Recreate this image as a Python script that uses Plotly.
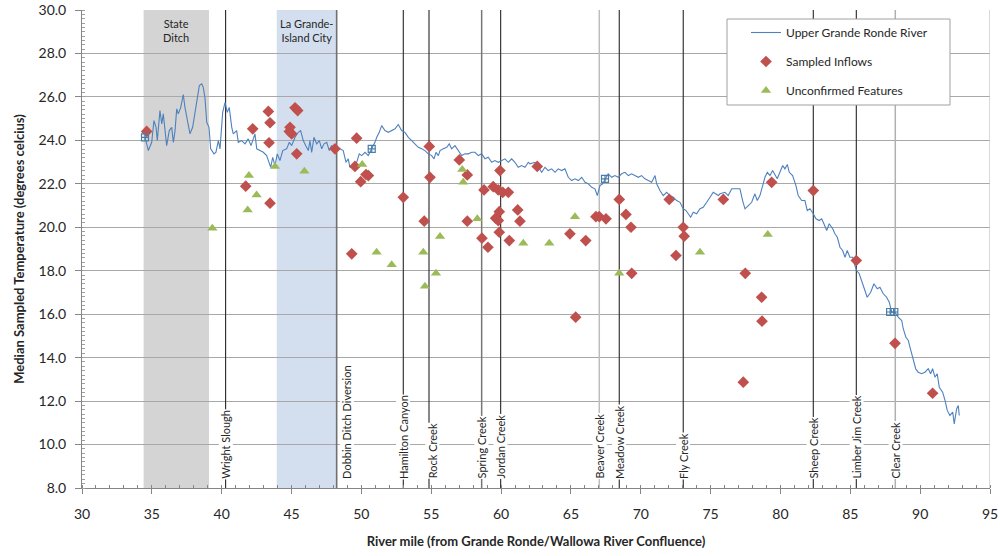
import plotly.graph_objects as go

# ---- Upper Grande Ronde River median temperature profile ----
river_mile = [
    34.51, 34.75, 34.99, 35.15, 35.30, 35.39, 35.58, 35.71, 35.82, 36.06,
    36.25, 36.42, 36.54, 36.66, 36.78, 36.89, 37.07, 37.25, 37.37, 37.61,
    37.73, 37.92, 38.09, 38.21, 38.40, 38.57, 38.68, 38.80, 38.93, 39.09,
    39.21, 39.45, 39.59, 39.76, 39.88, 40.07, 40.24, 40.40, 40.54, 40.72,
    40.83, 41.07, 41.19, 41.43, 41.67, 41.90, 42.10, 42.38, 42.51, 42.74,
    42.98, 43.22, 43.34, 43.51, 43.65, 43.82, 43.98, 44.17, 44.37, 44.65,
    44.84, 45.01, 45.25, 45.48, 45.65, 45.84, 46.01, 46.20, 46.32, 46.44,
    46.61, 46.80, 46.99, 47.16, 47.32, 47.52, 47.70, 47.87, 48.11, 48.35,
    48.47, 48.70, 48.90, 49.06, 49.18, 49.42, 49.66, 49.85, 50.02, 50.26,
    50.49, 50.74, 50.97, 51.10, 51.28, 51.45, 51.69, 51.93, 52.17, 52.41,
    52.64, 52.88, 53.12, 53.36, 53.60, 53.84, 54.07, 54.32, 54.55, 54.79,
    55.03, 55.20, 55.34, 55.51, 55.63, 55.86, 56.11, 56.29, 56.46, 56.70,
    56.94, 57.18, 57.42, 57.65, 57.90, 58.13, 58.37, 58.61, 58.85, 59.08,
    59.33, 59.56, 59.80, 60.04, 60.28, 60.52, 60.76, 60.99, 61.23, 61.47,
    61.71, 61.95, 62.07, 62.43, 62.66, 62.91, 63.14, 63.38, 63.62, 63.86,
    64.09, 64.34, 64.57, 64.81, 65.05, 65.29, 65.53, 65.77, 66.01, 66.24,
    66.49, 66.72, 66.89, 67.08, 67.27, 67.44, 67.67, 67.92, 68.15, 68.39,
    68.63, 68.87, 69.11, 69.35, 69.58, 69.82, 70.06, 70.30, 70.54, 70.78,
    71.02, 71.14, 71.37, 71.61, 71.85, 72.09, 72.33, 72.57, 72.81, 73.04,
    73.24, 73.40, 73.57, 73.76, 74.00, 74.24, 74.47, 74.72, 74.95, 75.19,
    75.55, 75.67, 76.03, 76.26, 76.51, 76.86, 77.10, 77.29, 77.46, 77.70,
    77.94, 78.17, 78.34, 78.53, 78.73, 78.89, 79.06, 79.25, 79.44, 79.61,
    79.77, 79.96, 80.16, 80.32, 80.49, 80.63, 80.87, 81.11, 81.27, 81.52,
    81.75, 81.92, 82.11, 82.35, 82.54, 82.78, 82.95, 83.11, 83.31, 83.49,
    83.74, 83.90, 84.07, 84.26, 84.45, 84.62, 84.78, 84.97, 85.17, 85.33,
    85.45, 85.64, 85.88, 86.05, 86.21, 86.46, 86.69, 86.93, 87.12, 87.36,
    87.60, 87.79, 87.96, 88.20, 88.43, 88.68, 88.79, 88.98, 89.15, 89.27,
    89.39, 89.51, 89.68, 89.86, 90.11, 90.34, 90.58, 90.75, 90.89, 91.06,
    91.22, 91.37, 91.61, 91.78, 91.94, 92.13, 92.33, 92.44, 92.61, 92.73,
    92.80,
]
river_temp = [
    24.14, 23.53, 23.91, 24.91, 24.60, 23.99, 25.37, 24.76, 25.22, 23.76,
    24.45, 24.60, 23.91, 24.45, 25.45, 25.22, 25.52, 26.11, 25.52, 24.60,
    24.30, 24.60, 25.22, 25.68, 26.52, 26.60, 26.44, 25.98, 24.83, 24.60,
    23.61, 23.38, 23.46, 23.99, 23.61, 25.29, 25.75, 25.29, 25.52, 24.60,
    24.30, 24.45, 23.91, 23.99, 23.84, 24.07, 23.76, 24.30, 23.61, 23.53,
    23.45, 23.30, 23.07, 22.76, 23.22, 22.84, 23.38, 23.07, 23.53, 23.61,
    23.91, 23.76, 24.14, 24.37, 24.45, 23.99, 23.76, 23.53, 23.99, 23.45,
    24.14, 23.84, 23.99, 23.61, 23.84, 23.91, 23.53, 23.76, 23.45, 23.61,
    23.61, 23.53, 22.99, 23.15, 22.76, 22.92, 22.99, 23.38, 23.30, 23.45,
    23.30, 23.61, 23.91, 24.14, 24.37, 24.68, 24.45, 24.37, 24.45, 24.53,
    24.73, 24.45, 24.37, 24.14, 23.99, 23.84, 23.68, 23.61, 23.53, 23.38,
    23.30, 23.15, 23.45, 23.30, 23.53, 23.61, 23.68, 23.84, 23.61, 23.76,
    23.53, 23.30, 23.38, 23.38, 23.45, 23.45, 23.30, 23.38, 23.15, 23.22,
    22.99, 23.07, 22.99, 23.07, 23.15, 22.99, 23.15, 22.99, 22.76, 22.84,
    22.76, 22.99, 22.92, 22.99, 22.76, 22.53, 22.76, 22.61, 22.69, 22.53,
    22.69, 22.61, 22.69, 22.30, 22.15, 22.23, 22.15, 22.30, 22.07, 22.00,
    21.84, 21.77, 21.46, 21.92, 22.00, 22.23, 22.46, 22.30, 22.38, 22.30,
    22.46, 22.53, 22.38, 22.46, 22.38, 22.30, 22.38, 22.23, 22.15, 22.07,
    22.38, 22.00, 21.69, 21.46, 21.61, 21.46, 21.38, 21.23, 21.15, 20.85,
    20.77, 20.62, 20.46, 20.69, 20.62, 20.85, 20.92, 21.15, 21.38, 21.61,
    21.46, 21.54, 21.61, 21.46, 21.77, 21.77, 21.77, 21.23, 20.85, 21.00,
    21.15, 21.54, 21.23, 21.46, 22.00, 22.30, 22.53, 22.38, 22.61, 22.38,
    22.23, 22.53, 22.84, 22.69, 22.89, 22.53, 22.38, 21.92, 21.46, 21.23,
    21.23, 20.77, 20.85, 20.62, 20.39, 20.31, 20.39, 20.16, 19.85, 20.16,
    19.93, 19.70, 19.54, 19.08, 18.93, 18.62, 18.93, 18.62, 18.62, 18.24,
    18.01, 17.86, 17.40, 17.01, 16.78, 17.01, 17.40, 17.17, 17.24, 16.94,
    16.78, 16.55, 16.09, 16.09, 15.86, 15.71, 15.33, 14.94, 14.79, 14.48,
    14.18, 13.79, 13.49, 13.33, 13.26, 13.33, 13.49, 13.26, 13.49, 13.10,
    13.26, 12.64, 12.41, 12.03, 11.57, 11.34, 11.49, 10.95, 11.64, 11.80,
    11.34,
]
assert len(river_mile) == len(river_temp)

# Survey reference points on the river profile
survey_mile = [34.51, 50.74, 67.44, 87.85, 88.15]
survey_temp = [24.14, 23.61, 22.23, 16.10, 16.10]

# ---- Sampled inflows ----
inflow_mile = [
    34.63, 41.72, 42.22, 43.34, 43.46, 43.39, 43.46, 44.84, 44.89, 45.01,
    45.25, 45.44, 45.37, 48.11, 49.31, 49.54, 49.66, 49.95, 50.33, 50.50,
    53.00, 54.50, 54.86, 54.91, 57.01, 57.58, 57.58, 58.63, 58.78, 59.06,
    59.44, 59.61, 59.80, 59.80, 59.87, 59.87, 59.92, 60.12, 60.52, 60.59,
    61.19, 61.35, 62.59, 64.93, 65.34, 66.06, 66.79, 67.03, 67.51, 68.46,
    68.94, 69.30, 69.35, 72.04, 72.52, 73.04, 73.11, 75.91, 77.34, 77.48,
    78.65, 78.68, 79.37, 82.35, 85.43, 88.20, 90.89,
]
inflow_temp = [
    24.41, 21.89, 24.53, 25.33, 24.81, 23.89, 21.11, 24.41, 24.60, 24.30,
    25.50, 25.37, 23.38, 23.61, 18.78, 22.80, 24.10, 22.10, 22.43, 22.38,
    21.38, 20.28, 23.72, 22.30, 23.10, 22.41, 20.28, 19.50, 21.72, 19.08,
    21.87, 20.42, 21.72, 20.31, 20.72, 19.77, 22.61, 21.61, 21.61, 19.39,
    20.80, 20.28, 22.80, 19.70, 15.86, 19.39, 20.49, 20.49, 20.39, 21.28,
    20.59, 20.00, 17.88, 21.28, 18.70, 20.00, 19.59, 21.28, 12.87, 17.88,
    16.78, 15.68, 22.07, 21.69, 18.47, 14.66, 12.36,
]
assert len(inflow_mile) == len(inflow_temp)

# ---- Unconfirmed features ----
unconf_mile = [
    39.33, 41.86, 41.95, 42.50, 43.82, 45.92, 50.06, 51.09, 52.17, 54.43,
    54.55, 55.34, 55.63, 57.22, 57.29, 58.30, 61.59, 63.45, 65.29, 68.46,
    74.24, 79.09,
]
unconf_temp = [
    19.96, 20.80, 22.38, 21.49, 22.80, 22.58, 22.89, 18.85, 18.28, 18.85,
    17.29, 17.88, 19.57, 22.66, 22.07, 20.39, 19.27, 19.27, 20.49, 17.88,
    18.85, 19.67,
]
assert len(unconf_mile) == len(unconf_temp)

# ---- Named tributaries / diversions ----
feature_names = [
    "Wright Slough", "Dobbin Ditch Diversion", "Hamilton Canyon", "Rock Creek",
    "Spring Creek", "Jordan Creek", "Beaver Creek", "Meadow Creek", "Fly Creek",
    "Sheep Creek", "Limber Jim Creek", "Clear Creek",
]
feature_miles = [40.28, 48.23, 53.00, 54.84, 58.61, 59.97, 67.03, 68.46,
                 73.04, 82.35, 85.43, 88.22]

# ---- Shaded reaches ----
reach_names = ["State<br>Ditch", "La Grande-<br>Island City"]
reach_start = [34.41, 43.94]
reach_end = [39.09, 48.23]

FONT = "Lato"
TEXT = "#262626"

# line styling per feature (a few drawn lighter)
line_style = {
    "Dobbin Ditch Diversion": ("#6f6f6f", 1.6),
    "Spring Creek": ("#777777", 1.5),
    "Beaver Creek": ("#bdbdbd", 1.5),
    "Clear Creek": ("#b0b0b0", 1.5),
}
label_shift = {"Dobbin Ditch Diversion": 10, "Rock Creek": 3}

fig = go.Figure()

fig.add_trace(go.Scatter(
    x=river_mile, y=river_temp, mode="lines", name="Upper Grande Ronde River",
    line=dict(color="#4f81bd", width=1.1), legendgroup="a",
))
fig.add_trace(go.Scatter(
    x=inflow_mile, y=inflow_temp, mode="markers", name="Sampled Inflows",
    marker=dict(symbol="diamond", size=9, color="#c0504d"), legendgroup="b",
))
fig.add_trace(go.Scatter(
    x=unconf_mile, y=unconf_temp, mode="markers", name="Unconfirmed Features",
    marker=dict(symbol="triangle-up", size=9, color="#9bbb59"), legendgroup="c",
))
fig.add_trace(go.Scatter(
    x=survey_mile, y=survey_temp, mode="markers", showlegend=False,
    marker=dict(symbol="square-cross-open", size=7, color="#4a7ea8",
                line=dict(color="#4a7ea8", width=1.2)),
))

shapes = []
colors = ["#d4d4d4", "#d3dfee"]
for s, e, c in zip(reach_start, reach_end, colors):
    shapes.append(dict(type="rect", xref="x", yref="y", x0=s, x1=e, y0=8, y1=30,
                       fillcolor=c, line=dict(width=0), layer="below"))
for name, m in zip(feature_names, feature_miles):
    col, w = line_style.get(name, ("#262626", 1.1))
    shapes.append(dict(type="line", xref="x", yref="y", x0=m, x1=m, y0=8, y1=30,
                       line=dict(color=col, width=w), layer="between"))
# right border of the plot area
shapes.append(dict(type="line", xref="x", yref="y", x0=95, x1=95, y0=8, y1=30,
                   line=dict(color="#c0c0c0", width=1.2), layer="between"))
# legend frame
shapes.append(dict(type="rect", xref="paper", yref="paper",
                   x0=(727 - 82) / 908, x1=(950 - 82) / 908,
                   y0=1 - (105 - 10) / 478, y1=1 - (19 - 10) / 478,
                   fillcolor="white", line=dict(color="#a0a0a0", width=1),
                   layer="above"))

annotations = []
for name, m in zip(feature_names, feature_miles):
    annotations.append(dict(
        x=m, y=8.38, xref="x", yref="y", text=name, textangle=-90,
        xanchor="center", yanchor="bottom", showarrow=False,
        xshift=label_shift.get(name, 0),
        bgcolor="white", borderpad=0,
        font=dict(family=FONT, size=11, color=TEXT),
    ))
for name, s, e in zip(reach_names, reach_start, reach_end):
    annotations.append(dict(
        x=(s + e) / 2, y=29.75, xref="x", yref="y", text=name,
        xanchor="center", yanchor="top", showarrow=False,
        font=dict(family=FONT, size=11, color=TEXT),
    ))

fig.update_layout(
    width=1000, height=556,
    margin=dict(l=82, r=10, t=10, b=68),
    paper_bgcolor="white", plot_bgcolor="white",
    font=dict(family=FONT, color=TEXT),
    shapes=shapes, annotations=annotations,
    legend=dict(
        x=(746 - 82) / 908, y=1 - (18 - 10) / 478, xanchor="left", yanchor="top",
        bgcolor="rgba(0,0,0,0)", borderwidth=0,
        font=dict(family=FONT, size=12, color=TEXT),
        tracegroupgap=10, traceorder="grouped",
    ),
    xaxis=dict(
        range=[30, 95], tick0=30, dtick=5, showgrid=False, zeroline=False,
        automargin=False,
        showline=True, linecolor="#868686", linewidth=1,
        ticks="outside", ticklen=5, tickcolor="#868686",
        tickfont=dict(family=FONT, size=14, color=TEXT),
        ticklabelstandoff=8,
        minor=dict(dtick=1, ticks="inside", ticklen=3, tickcolor="#868686"),
        title=dict(text="<b>River mile (from Grande Ronde/Wallowa River Confluence)</b>",
                   font=dict(family=FONT, size=13, color=TEXT), standoff=16),
    ),
    yaxis=dict(
        range=[8, 30], tick0=8, dtick=2, tickformat=".1f",
        showgrid=True, gridcolor="#a8a8a8", gridwidth=1.2, zeroline=False,
        automargin=False,
        showline=True, linecolor="#868686", linewidth=1,
        ticks="outside", ticklen=6, tickcolor="#868686",
        tickfont=dict(family=FONT, size=14, color=TEXT),
        ticklabelstandoff=6,
        minor=dict(dtick=0.2, ticks="inside", ticklen=3, tickcolor="#a0a0a0",
                   showgrid=False),
        title=dict(text="<b>Median Sampled Temperature (degrees celcius)</b>",
                   font=dict(family=FONT, size=13, color=TEXT), standoff=10),
    ),
)

fig.write_html("out.html")
